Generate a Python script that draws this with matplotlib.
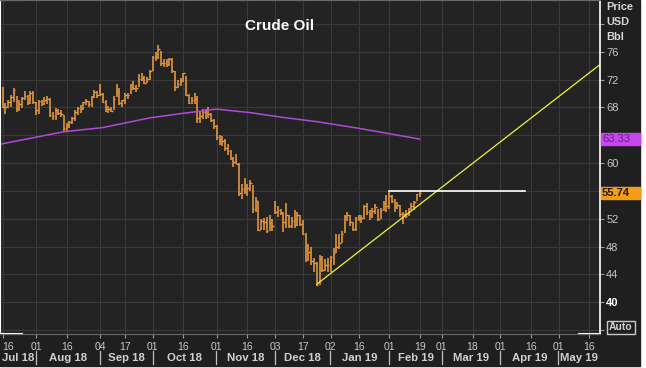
import numpy as np
import pandas as pd
import matplotlib
matplotlib.use('Agg')
import matplotlib.pyplot as plt
from matplotlib.lines import Line2D
from matplotlib.patches import Rectangle

plt.rcParams['font.family'] = ['Liberation Sans', 'DejaVu Sans']

# trading calendar
holidays = ['2018-09-03', '2018-11-22', '2018-12-25', '2019-01-01',
            '2019-01-21', '2019-02-18', '2019-04-19']
start_day = '2018-07-16'
last_day = '2019-02-19'

# daily WTI bars (Jul 16 2018 .. Feb 19 2019)
highs = [71.0, 68.6, 69.1, 69.8, 70.8, 69.7, 69.0, 69.5, 70.4, 69.8, 70.3, 70.3,  # jul
         68.8, 69.1, 69.1, 69.5, 69.6, 69.4, 67.4, 67.9, 67.8, 67.6, 66.9, 65.7,
         66.1, 66.6, 67.6, 68.1, 68.3, 68.8, 69.2, 68.9, 69.6, 70.5, 70.3,  # aug
         71.4, 70.0, 69.0, 68.2, 68.1, 69.6, 71.3, 70.8, 69.1, 70.0, 70.0, 71.4,
         71.8, 71.2, 72.8, 72.9, 72.5, 72.4, 73.4,  # sep
         75.4, 75.9, 76.9, 76.1, 74.9, 74.9, 75.1, 75.1, 73.3, 71.9, 72.2, 73.0,
         72.5, 69.9, 69.5, 70.1, 69.6, 67.3, 67.8, 67.8, 68.0, 67.2, 66.4,  # oct
         65.4, 64.0, 63.9, 63.5, 62.8, 61.9, 60.8, 61.3, 60.0, 57.0, 57.9, 57.0,
         57.6, 56.9, 55.1, 54.6, 52.0, 52.1, 52.3, 52.5, 52.0,  # nov
         54.5, 53.8, 53.4, 53.0, 54.2, 52.5, 52.2, 53.2, 52.9, 52.6, 51.8, 50.0,
         48.3, 48.0, 46.4, 45.8, 46.8, 46.6, 46.2, 46.3,  # dec
         46.7, 47.8, 49.8, 49.8, 50.3, 52.5, 53.0, 52.6, 51.5, 52.3, 52.6, 52.5,
         54.0, 54.2, 53.3, 53.6, 54.1, 53.4, 53.5, 54.6, 55.4,  # jan
         55.8, 55.4, 54.9, 54.4, 54.0, 52.9, 53.2, 53.5, 54.3, 54.6, 55.6, 55.95]  # feb
lows = [67.9, 67.0, 67.9, 68.1, 68.8, 67.4, 67.5, 67.9, 69.0, 68.3, 68.5, 68.5,
        66.9, 67.1, 68.2, 68.3, 68.5, 66.6, 66.2, 66.2, 66.9, 66.6, 64.4, 64.4,
        65.1, 65.6, 66.0, 66.9, 67.2, 67.6, 68.3, 68.0, 68.1, 69.3, 69.4,
        69.7, 68.6, 67.3, 67.2, 67.3, 67.6, 69.5, 68.4, 68.0, 68.5, 69.2, 69.9,
        70.5, 70.2, 71.0, 71.8, 71.4, 71.5, 72.0,
        73.2, 74.6, 75.0, 74.0, 73.8, 73.8, 74.0, 72.9, 70.4, 70.8, 71.1, 71.7,
        69.6, 68.5, 68.5, 68.5, 65.7, 65.7, 66.4, 66.3, 66.5, 65.9, 64.9,
        63.3, 62.6, 62.5, 61.7, 61.2, 60.4, 59.4, 59.8, 55.2, 54.8, 55.6, 55.3,
        56.0, 52.8, 53.0, 50.2, 50.4, 50.4, 49.9, 50.2, 50.2,
        52.7, 52.3, 52.5, 50.1, 50.6, 50.6, 50.7, 50.6, 51.0, 50.9, 49.6, 45.8,
        46.0, 45.4, 44.4, 42.4, 42.5, 44.4, 44.5, 44.4,
        44.4, 45.4, 47.1, 47.7, 48.5, 50.0, 51.7, 51.0, 50.3, 50.3, 51.7, 51.4,
        51.9, 52.5, 51.8, 52.1, 52.7, 51.7, 52.0, 53.1, 53.0,
        53.4, 54.2, 53.0, 53.4, 52.2, 51.2, 52.1, 52.4, 53.2, 53.3, 54.5, 55.1]
closes = [68.06, 68.08, 68.76, 69.46, 70.46, 67.89, 68.52, 69.30, 69.61, 68.69, 70.13, 68.76,
          67.66, 68.96, 68.49, 69.01, 69.17, 66.94, 66.81, 67.63, 67.20, 67.04, 65.01, 65.46,
          65.91, 66.43, 67.35, 67.86, 67.83, 68.72, 68.87, 68.53, 69.51, 70.25, 69.80,
          69.87, 68.72, 67.77, 67.75, 67.54, 69.25, 70.37, 68.59, 68.99, 69.85, 69.85, 71.12,
          70.80, 70.78, 72.08, 72.28, 71.57, 72.12, 73.25,
          75.30, 75.23, 76.41, 74.33, 74.34, 74.29, 74.96, 73.17, 70.97, 71.34, 71.78, 72.92,
          69.75, 68.65, 69.12, 69.17, 66.43, 66.82, 67.33, 67.59, 67.04, 66.18, 65.31,
          63.69, 63.14, 63.10, 62.21, 61.67, 60.67, 60.19, 59.93, 55.69, 56.25, 56.46, 56.46,
          57.20, 53.43, 54.63, 50.42, 51.63, 51.56, 50.29, 51.45, 50.93,
          52.95, 53.25, 52.89, 51.49, 52.61, 51.00, 51.65, 51.15, 52.58, 51.20, 49.88, 46.24,
          47.20, 45.88, 45.59, 42.53, 46.22, 44.61, 45.33, 45.41,
          46.54, 47.09, 47.96, 48.52, 49.78, 52.36, 52.59, 51.59, 50.51, 52.11, 52.31, 52.07,
          53.80, 53.01, 52.62, 53.13, 53.69, 51.99, 53.31, 54.23, 53.79,
          55.26, 54.56, 53.66, 54.01, 52.64, 52.72, 52.41, 53.10, 53.90, 54.41, 55.59, 55.74]

# 200 day moving average
ma_dates = ['2018-07-13', '2018-08-15', '2018-09-05', '2018-09-28', '2018-10-16', '2018-11-01',
            '2018-11-19', '2018-12-06', '2018-12-24', '2019-01-16', '2019-02-19']
ma_vals = [62.7, 64.5, 65.1, 66.5, 67.15, 67.75, 67.25, 66.55, 65.95, 65.0, 63.45]

# drawn lines
trend_dates = ['2018-12-24', '2019-05-22']
trend_vals = [42.6, 74.2]
resist_dates = ['2019-02-01', '2019-04-12']
resist_vals = [56.05, 56.05]

tick_dates = ['2018-07-16', '2018-08-01', '2018-08-16', '2018-09-04', '2018-09-17', '2018-10-01',
              '2018-10-16', '2018-11-01', '2018-11-16', '2018-12-03', '2018-12-17', '2019-01-02',
              '2019-01-16', '2019-02-01', '2019-02-19', '2019-03-01', '2019-03-18', '2019-04-01',
              '2019-04-16', '2019-05-01', '2019-05-16']
month_labels = ['Jul 18', 'Aug 18', 'Sep 18', 'Oct 18', 'Nov 18', 'Dec 18',
                'Jan 19', 'Feb 19', 'Mar 19', 'Apr 19', 'May 19']
month_starts = ['2018-07-01', '2018-08-01', '2018-09-01', '2018-10-01', '2018-11-01', '2018-12-01',
                '2019-01-01', '2019-02-01', '2019-03-01', '2019-04-01', '2019-05-01', '2019-06-01']
yticks = list(range(36, 84, 4))
hidden_ylabels = [36, 56, 64, 80]  # off-axis or covered by the value boxes


def tday(d):
    return np.busday_count(start_day, d, holidays=holidays)


days = pd.bdate_range(start_day, last_day)
days = [d for d in days if d.strftime('%Y-%m-%d') not in holidays]
x = np.arange(len(days))
assert len(x) == len(closes) == len(highs) == len(lows)

W, H = 646, 368
fig = plt.figure(figsize=(W / 100, H / 100), dpi=100, facecolor='white')
fig.add_artist(Rectangle((0, 2 / H), 640 / W, 366 / H, transform=fig.transFigure,
                         color='#1f1f1f', zorder=-10))
ax = fig.add_axes([0, 34 / H, 600 / W, 334 / H])
ax.set_facecolor('#232323')
ax.set_xlim(-0.97, 214.86)
ax.set_ylim(35.44, 83.43)

ax.grid(True, color='#3a3a3a', lw=0.8)
ax.set_axisbelow(True)

orange = '#f0a040'
ax.vlines(x, lows, highs, color=orange, lw=1.1)
ax.hlines(closes, x, x + 0.55, color=orange, lw=1.0)

ax.plot([tday(d) for d in ma_dates], ma_vals, color='#b448d8', lw=1.1)
ax.plot([tday(d) for d in trend_dates], trend_vals, color='#f2f23a', lw=0.9)
ax.plot([tday(d) for d in resist_dates], resist_vals, color='white', lw=1.2)

# y axis on the right
ax.yaxis.tick_right()
ax.set_yticks(yticks)
ax.set_yticklabels(['' if v in hidden_ylabels else str(v) for v in yticks])
ax.tick_params(axis='y', length=3, pad=1.5, labelsize=8, colors='#c8c8c8', color='#9a9a9a')
for t in ax.get_yticklabels():
    if t.get_text() == '40':
        t.set_fontweight('bold')
        t.set_color('white')

# x axis days
tick_x = [tday(d) for d in tick_dates]
ax.set_xticks(tick_x)
ax.set_xticklabels([d[-2:] for d in tick_dates])
ax.tick_params(axis='x', length=3, pad=2.5, labelsize=7.5, colors='#c8c8c8', color='#9a9a9a')
ax.get_xticklabels()[0].set_horizontalalignment('left')

# month row
tr = ax.get_xaxis_transform()
lo, hi = ax.get_xlim()
for i, lab in enumerate(month_labels):
    a = max(tday(month_starts[i]), lo)
    b = min(tday(month_starts[i + 1]), hi)
    ax.text((a + b) / 2, -0.072, lab, transform=tr, ha='center', va='center',
            fontsize=8.2, fontweight='bold', color='#d0d0d0')
    if i > 0:
        sx = tday(month_starts[i]) - 0.1
        ax.add_line(Line2D([sx, sx], [-0.051, -0.09], transform=tr, color='#c0c0c0',
                           lw=0.9, clip_on=False))

for s in ['top', 'bottom']:
    ax.spines[s].set_color('#6a6a6a')
ax.spines['left'].set_color('white')
ax.spines['left'].set_linewidth(1.5)
ax.spines['right'].set_color('white')
ax.spines['right'].set_linewidth(1.2)
for xs, yv in [((0, 22 / 600), 0), ((579 / 600, 1), 0), ((0, 22 / 600), 1)]:
    ax.add_line(Line2D(xs, [yv, yv], transform=ax.transAxes, color='white', lw=1.5,
                       clip_on=False))


def fp(px, py):
    return px / W, 1 - py / H


fig.text(*fp(280, 26), 'Crude Oil', ha='center', va='center', fontsize=11,
         fontweight='bold', color='white')
for lab, py in [('Price', 7), ('USD', 22), ('Bbl', 37)]:
    fig.text(*fp(606, py), lab, ha='left', va='center', fontsize=7.9,
             fontweight='bold', color='#d6d6d6')

# value boxes
fig.add_artist(Rectangle(fp(601, 145), 39 / W, 12 / H, transform=fig.transFigure,
                         color='#c846ee', zorder=5))
fig.text(*fp(602, 139), '63.33', ha='left', va='center', fontsize=8,
         color='#6a1a8a', zorder=6)
fig.add_artist(Rectangle(fp(601, 199), 39 / W, 12 / H, transform=fig.transFigure,
                         color='#f29d1a', zorder=5))
fig.text(*fp(602, 193), '55.74', ha='left', va='center', fontsize=8,
         fontweight='bold', color='#2a1a00', zorder=6)

fig.add_artist(Rectangle(fp(607, 334), 28 / W, 13 / H, transform=fig.transFigure,
                         fill=False, ec='#c8c8c8', lw=1, zorder=5))
fig.text(*fp(621, 327.5), 'Auto', ha='center', va='center', fontsize=7.5,
         fontweight='bold', color='#d0d0d0', zorder=6)

fig.savefig('out.png', dpi=100, facecolor=fig.get_facecolor())
